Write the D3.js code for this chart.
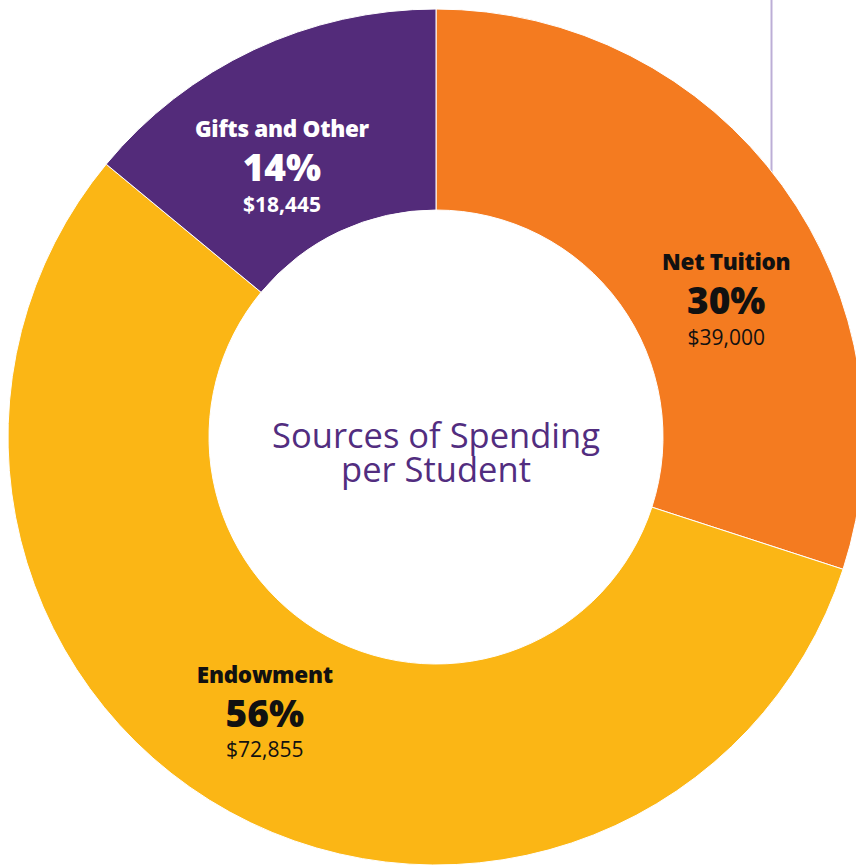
<!DOCTYPE html>
<html>
<head>
<meta charset="utf-8">
<script src="https://cdn.jsdelivr.net/npm/d3@7"></script>
<style>
  body { margin: 0; background: #fff; }
  svg { display: block; }
</style>
</head>
<body>
<div id="donut-chart"></div>
<script>
const categories = ["Net Tuition", "Endowment", "Gifts and Other"];
const shares = [30, 56, 14];
const amounts = ["$39,000", "$72,855", "$18,445"];
const colors = ["#f47b20", "#fbb615", "#532b7a"];
const labelColors = ["#111", "#111", "#fff"];

const data = categories.map((c, i) => ({ name: c, share: shares[i], amount: amounts[i], color: colors[i], textColor: labelColors[i] }));

const width = 856,
      height = 867,
      cx = 436,
      cy = 437,
      outerR = 428,
      innerR = 227;

let svg = d3.select("#donut-chart")
    .append("svg")
    .attr("width", width)
    .attr("height", height)
    .attr("viewBox", [0, 0, width, height]);

// thin divider line at top right, sits behind the ring
svg.append("line")
    .attr("x1", 771.5).attr("x2", 771.5)
    .attr("y1", 0).attr("y2", 200)
    .attr("stroke", "#bcaed6")
    .attr("stroke-width", 2);

let pie = d3.pie()
    .value(d => d.share)
    .sort(null);

let arc = d3.arc()
    .innerRadius(innerR)
    .outerRadius(outerR);

let g = svg.append("g")
    .attr("transform", `translate(${cx},${cy})`);

g.selectAll("path")
    .data(pie(data))
    .join("path")
    .attr("d", arc)
    .attr("fill", d => d.data.color)
    .attr("stroke", "#fff")
    .attr("stroke-width", 1);

// label positions (radius, angle in degrees clockwise from top)
const labelPos = [[321, 64.7], [324, 211.9], [311, 330.3]];

let label = g.selectAll(".label")
    .data(pie(data))
    .join("g")
    .attr("class", "label")
    .attr("transform", (d, i) => {
        let a = labelPos[i][1] * Math.PI / 180;
        return `translate(${labelPos[i][0] * Math.sin(a)},${-labelPos[i][0] * Math.cos(a)})`;
    })
    .style("fill", d => d.data.textColor)
    .attr("text-anchor", "middle")
    .attr("dominant-baseline", "central")
    .style("font-family", "'Open Sans', sans-serif");

label.append("text")
    .attr("y", -38)
    .style("font-size", "22.5px")
    .style("font-weight", 800)
    .style("letter-spacing", "-0.3px")
    .text(d => d.data.name);

label.append("text")
    .attr("y", 0)
    .style("font-size", "37px")
    .style("font-weight", 800)
    .text(d => d.data.share + "%");

label.append("text")
    .attr("y", 37)
    .style("font-size", "21px")
    .style("font-weight", d => d.index === 2 ? 700 : 400)
    .text(d => d.data.amount);

// centre title, two lines
const titleLines = ["Sources of Spending", "per Student"];

g.selectAll(".title")
    .data(titleLines)
    .join("text")
    .attr("class", "title")
    .attr("x", 0)
    .attr("y", (d, i) => -3 + i * 34)
    .attr("text-anchor", "middle")
    .attr("dominant-baseline", "central")
    .style("fill", "#522d7f")
    .style("font-family", "'Open Sans', sans-serif")
    .style("font-size", "34.5px")
    .text(d => d);
</script>
</body>
</html>
